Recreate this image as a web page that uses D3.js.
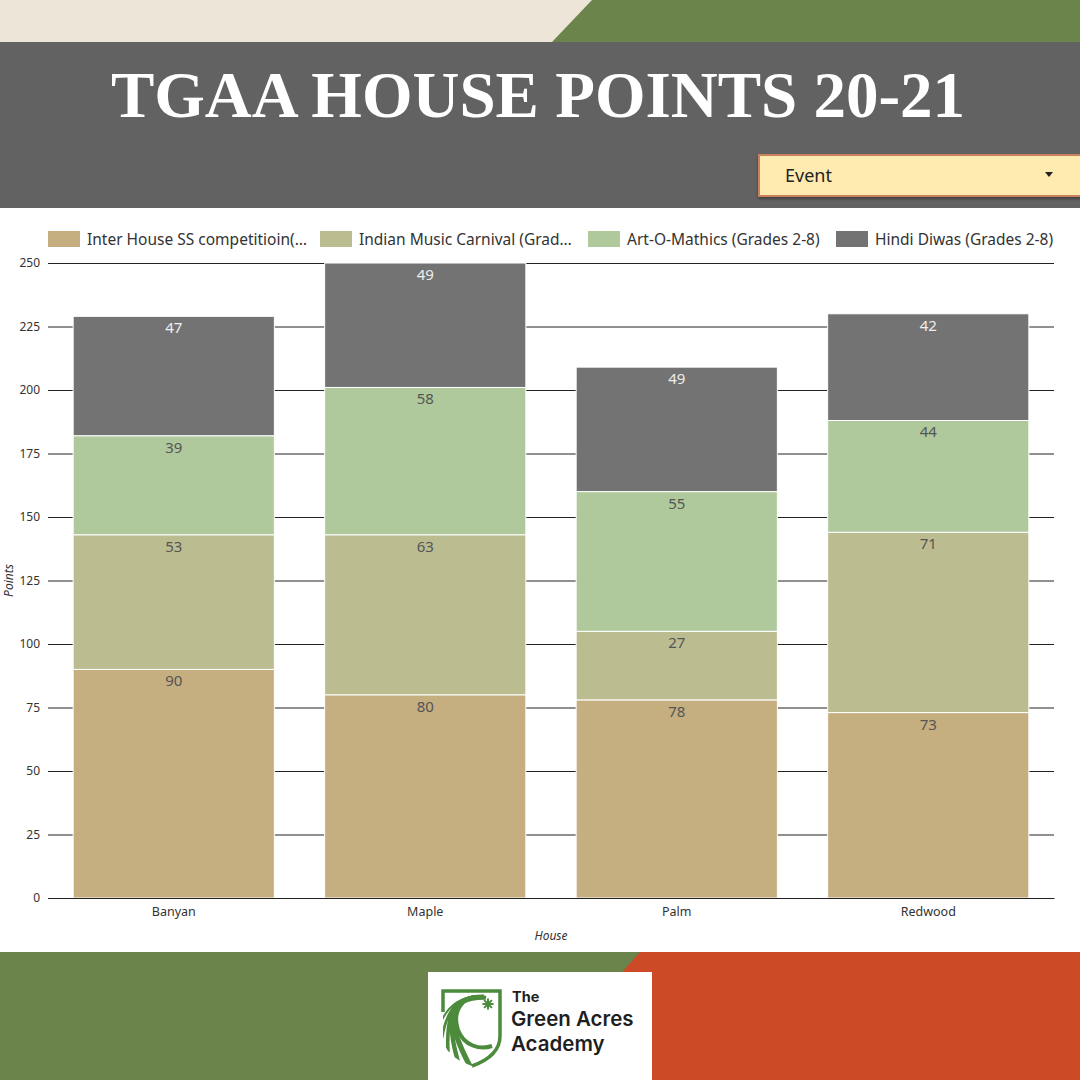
<!DOCTYPE html>
<html>
<head>
<meta charset="utf-8">
<script src="https://cdn.jsdelivr.net/npm/d3@7"></script>
<style>
  html, body { margin: 0; padding: 0; background: #fff; }
  svg { display: block; }
</style>
</head>
<body>
<div id="chart"></div>
<script>
// Dados
const houses = ["Banyan", "Maple", "Palm", "Redwood"];
const events = ["Inter House SS competitioin(…", "Indian Music Carnival (Grad…", "Art-O-Mathics (Grades 2-8)", "Hindi Diwas (Grades 2-8)"];
const interHouseSS = [90, 80, 78, 73];
const indianMusic = [53, 63, 27, 71];
const artOMathics = [39, 58, 55, 44];
const hindiDiwas = [47, 49, 49, 42];
const yTicks = [0, 25, 50, 75, 100, 125, 150, 175, 200, 225, 250];

const seriesValues = [interHouseSS, indianMusic, artOMathics, hindiDiwas];
const colors = ["#c5ae80", "#bbbd90", "#afc99d", "#737373"];
const labelColors = ["#555", "#555", "#555", "#eee"];

const W = 1080, H = 1080;
const svg = d3.select('#chart').append('svg').attr('width', W).attr('height', H);

// ---- fundo / cabeçalho ----
svg.append('rect').attr('width', W).attr('height', H).attr('fill', '#fff');
svg.append('rect').attr('x', 0).attr('y', 0).attr('width', W).attr('height', 42).attr('fill', '#ece5d8');
svg.append('path').attr('d', 'M592,0 L1080,0 L1080,42 L552,42 Z').attr('fill', '#6b844b');
svg.append('rect').attr('x', 0).attr('y', 42).attr('width', W).attr('height', 166).attr('fill', '#626262');

svg.append('text').attr('x', 538).attr('y', 117).attr('text-anchor', 'middle')
    .attr('font-family', '"Liberation Serif", "Times New Roman", serif')
    .attr('font-weight', 'bold').attr('font-size', '65px').attr('fill', '#fff')
    .text('TGAA HOUSE POINTS 20-21');

// filtro "Event"
const defs = svg.append('defs');
const sh = defs.append('filter').attr('id', 'shadow').attr('x', '-10%').attr('y', '-30%').attr('width', '120%').attr('height', '160%');
sh.append('feDropShadow').attr('dx', 0).attr('dy', 2).attr('stdDeviation', 1.5).attr('flood-color', '#000').attr('flood-opacity', 0.35);

svg.append('rect').attr('x', 759).attr('y', 155).attr('width', 340).attr('height', 41)
    .attr('fill', '#ffeab0').attr('stroke', '#c9825d').attr('stroke-width', 2)
    .attr('filter', 'url(#shadow)');
svg.append('text').attr('x', 785).attr('y', 182)
    .attr('font-family', '"Noto Sans", "Open Sans", sans-serif').attr('font-size', '18px').attr('fill', '#222')
    .text('Event');
svg.append('path').attr('d', 'M1045,172 L1053,172 L1049,177 Z').attr('fill', '#222');

// ---- rodapé ----
svg.append('rect').attr('x', 0).attr('y', 952).attr('width', W).attr('height', 128).attr('fill', '#6b844b');
svg.append('path').attr('d', 'M640,952 L1080,952 L1080,1080 L526,1080 Z').attr('fill', '#cd4a26');
svg.append('rect').attr('x', 428).attr('y', 972).attr('width', 224).attr('height', 108).attr('fill', '#fff');

// logo
const green = '#4b8b3b';
const clip = defs.append('clipPath').attr('id', 'shieldClip');
const shieldD = 'M443,991 L500,991 L500,1036 Q500,1056 472,1066 Q443,1056 443,1036 Z';
clip.append('path').attr('d', shieldD);
const logo = svg.append('g');
logo.append('path').attr('d', 'M443,1012 L443,991 L500,991 L500,1036 Q500,1056 472,1066')
    .attr('fill', 'none').attr('stroke', green).attr('stroke-width', 3.5);
const sw = logo.append('g').attr('clip-path', 'url(#shieldClip)');
const ends = [[441, 1022], [442, 1038], [448, 1052], [458, 1062], [472, 1070]];
ends.forEach((e, i) => {
    sw.append('path')
        .attr('d', `M484,997 C${462 - i * 4},${994 + i} ${448 - i},${1006 + i * 3} ${e[0]},${e[1]}`)
        .attr('fill', 'none').attr('stroke', green).attr('stroke-width', 2 + i * 0.8);
});
sw.append('path').attr('d', 'M486,998 C462,992 452,1012 458,1030 C464,1046 480,1050 492,1046')
    .attr('fill', 'none').attr('stroke', green).attr('stroke-width', 4);
// estrela
const star = logo.append('g').attr('transform', 'translate(488,1004)');
d3.range(8).forEach(i => {
    const a = i * Math.PI / 4;
    star.append('line').attr('x1', 0).attr('y1', 0)
        .attr('x2', 5.5 * Math.cos(a)).attr('y2', 5.5 * Math.sin(a))
        .attr('stroke', green).attr('stroke-width', 2);
});
const logoFont = 'Inter, Roboto, sans-serif';
logo.append('text').attr('x', 512).attr('y', 1002).attr('font-family', logoFont).attr('font-weight', 700)
    .attr('font-size', '14.5px').attr('fill', '#1f1f1f').text('The');
logo.append('text').attr('x', 511).attr('y', 1026).attr('font-family', logoFont).attr('font-weight', 600)
    .attr('font-size', '20.5px').attr('fill', '#1f1f1f').text('Green Acres');
logo.append('text').attr('x', 511).attr('y', 1051).attr('font-family', logoFont).attr('font-weight', 600)
    .attr('font-size', '20.5px').attr('fill', '#1f1f1f').text('Academy');

// ---- gráfico ----
const font = '"Noto Sans", "Open Sans", sans-serif';
const plot = { left: 48, right: 1054, top: 263, bottom: 898 };

const x = d3.scaleBand().domain(houses).range([plot.left, plot.right]).paddingInner(0.2).paddingOuter(0.1);
const y = d3.scaleLinear().domain([0, 250]).range([plot.bottom, plot.top]);

// linhas de grade
const gridG = svg.append('g').attr('transform', `translate(${plot.left},0)`)
    .call(d3.axisLeft(y).tickValues(yTicks).tickSize(-(plot.right - plot.left)).tickFormat(''));
gridG.select('.domain').remove();
gridG.selectAll('.tick line').attr('stroke', '#222').attr('stroke-width', 1);

// eixo Y
const yAxis = svg.append('g').attr('transform', `translate(${plot.left},0)`)
    .call(d3.axisLeft(y).tickValues(yTicks).tickSize(0).tickPadding(8));
yAxis.select('.domain').remove();
yAxis.selectAll('text').attr('font-family', font).attr('font-size', '12px').attr('fill', '#333');

// pilhas
const table = houses.map((h, i) => {
    const row = { house: h };
    events.forEach((e, j) => { row[e] = seriesValues[j][i]; });
    return row;
});
const stack = d3.stack().keys(events)(table);

const layers = svg.append('g').selectAll('g.layer').data(stack).enter().append('g')
    .attr('class', 'layer').attr('fill', (d, i) => colors[i]);

layers.selectAll('rect').data(d => d).enter().append('rect')
    .attr('x', d => x(d.data.house))
    .attr('y', d => y(d[1]))
    .attr('width', x.bandwidth())
    .attr('height', d => y(d[0]) - y(d[1]))
    .attr('stroke', '#fff').attr('stroke-width', 1);

// rótulos
stack.forEach((layer, i) => {
    svg.append('g').selectAll('text').data(layer).enter().append('text')
        .attr('x', d => x(d.data.house) + x.bandwidth() / 2)
        .attr('y', d => y(d[1]) + 17)
        .attr('text-anchor', 'middle')
        .attr('font-family', font).attr('font-size', '15px')
        .attr('fill', labelColors[i])
        .text(d => d[1] - d[0]);
});

// eixo X
const xAxis = svg.append('g').attr('transform', `translate(0,${plot.bottom})`)
    .call(d3.axisBottom(x).tickSize(0).tickPadding(9));
xAxis.select('.domain').attr('stroke', '#222');
xAxis.selectAll('text').attr('font-family', font).attr('font-size', '12.5px').attr('fill', '#333');

svg.append('text').attr('x', (plot.left + plot.right) / 2).attr('y', 940).attr('text-anchor', 'middle')
    .attr('font-family', font).attr('font-style', 'italic').attr('font-size', '12px').attr('fill', '#333')
    .text('House');
svg.append('text').attr('transform', `translate(13,${(plot.top + plot.bottom) / 2}) rotate(-90)`)
    .attr('text-anchor', 'middle')
    .attr('font-family', font).attr('font-style', 'italic').attr('font-size', '12px').attr('fill', '#333')
    .text('Points');

// legenda
const legendX = [48, 320, 588, 836];
const legend = svg.append('g').selectAll('g').data(events).enter().append('g')
    .attr('transform', (d, i) => `translate(${legendX[i]},231)`);
legend.append('rect').attr('width', 32).attr('height', 16).attr('fill', (d, i) => colors[i]);
legend.append('text').attr('x', 39).attr('y', 13.5)
    .attr('font-family', font).attr('font-size', '15.5px').attr('fill', '#333')
    .text(d => d);
</script>
</body>
</html>
